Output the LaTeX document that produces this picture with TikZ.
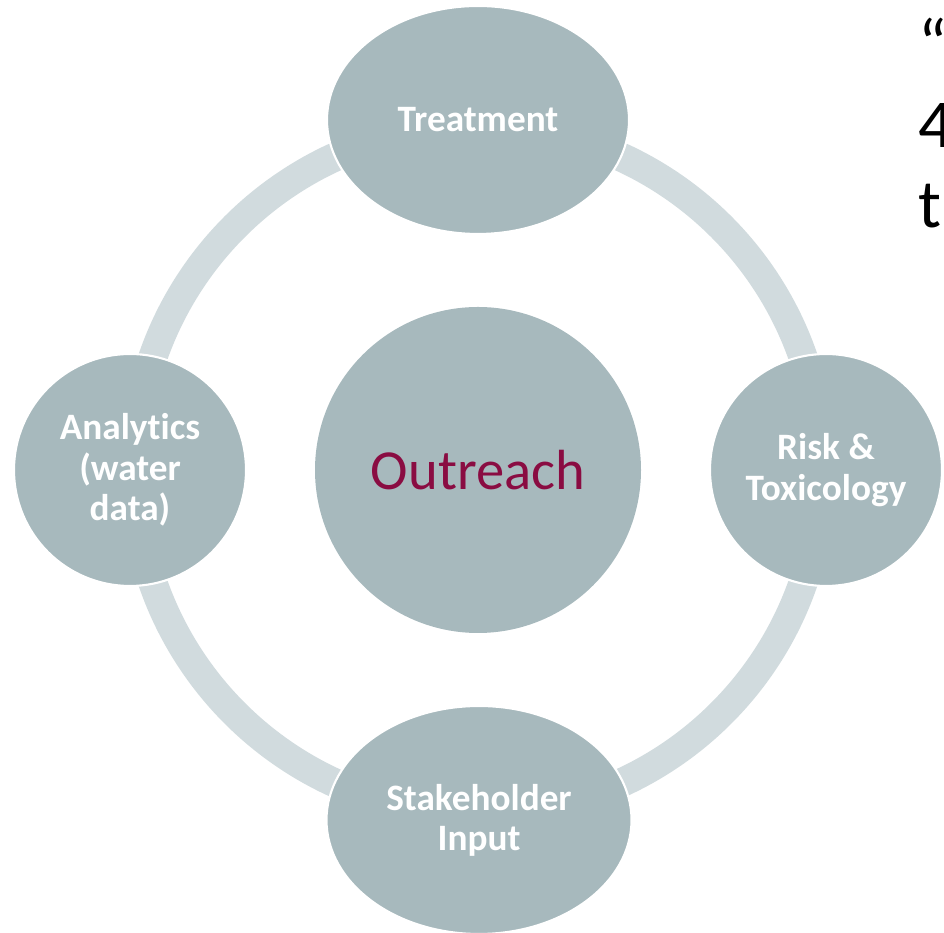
\documentclass[tikz,border=0pt]{standalone}
\usepackage{fontspec}
\setmainfont[Ligatures=CommonOff]{Carlito}
\usepackage{tikz}
\usetikzlibrary{positioning, shapes.geometric}
\usepackage{xcolor}

\definecolor{nodegray}{HTML}{A7B9BD}
\definecolor{ringgray}{HTML}{D1DBDE}
\definecolor{outreachred}{HTML}{8A0C42}

\begin{document}
\begin{tikzpicture}[
        topic/.style={fill=nodegray, draw=white, line width=1.2pt, inner sep=0pt,
            text=white, align=center, font=\fontsize{21.2}{22.9}\selectfont\bfseries},
        sidetext/.style={anchor=base west, inner sep=0pt, font=\fontsize{39}{46.5}\selectfont}
    ]
            \useasboundingbox (0,0) rectangle (18.88,18.66);

            % ring behind the four topics
            \coordinate (C) at (9.56,9.26);
            \draw[ringgray, line width=0.58cm] (C) circle (6.88);

            \node[circle, fill=nodegray, minimum size=6.52cm, inner sep=0pt,
                text=outreachred, font=\fontsize{32.2}{38}\selectfont] (outreach) at (C) {Outreach};

            \node[topic, ellipse, minimum width=6.04cm, minimum height=4.56cm] (treatment) at (9.56,16.26) {Treatment};
            \node[topic, circle, minimum size=4.64cm] (risk) at (16.52,9.26) {Risk \&\\Toxicology};
            \node[topic, ellipse, minimum width=6.1cm, minimum height=4.56cm] (stakeholder) at (9.58,2.26) {Stakeholder\\Input};
            \node[topic, circle, minimum size=4.64cm] (analytics) at (2.60,9.26) {Analytics\\(water\\data)};

            % text running in from the right
            \node[sidetext] (quote) at (18.36,17.30) {“};
            \node[sidetext] (four) at (18.36,15.70) {4};
            \node[sidetext] (tee) at (18.36,14.10) {t};
        \end{tikzpicture}
\end{document}
